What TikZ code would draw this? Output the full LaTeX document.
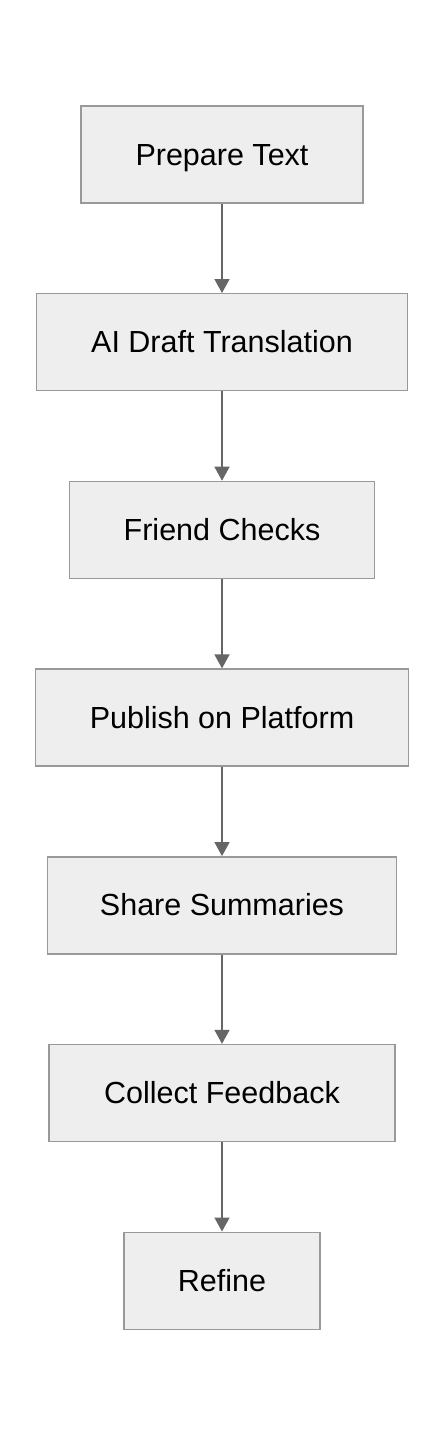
\documentclass[tikz,border=0pt]{standalone}
\usepackage{fontspec}
\setmainfont{Liberation Sans}
\usetikzlibrary{arrows.meta}
\definecolor{boxfill}{HTML}{EEEEEE}
\definecolor{boxline}{HTML}{999999}
\definecolor{arrowcol}{HTML}{666666}
\begin{document}
\begin{tikzpicture}[x=1pt,y=-1pt,
  stepbox/.style={draw=boxline, fill=boxfill, line width=1.4pt, rectangle,
    minimum height=97pt, inner sep=0pt, text height=21pt, text depth=0pt,
    font=\fontsize{30.5}{33}\selectfont, text=black},
  flow/.style={draw=arrowcol, line width=1.5pt, -{Triangle[width=15pt,length=14pt]}, shorten >=0pt}]
\useasboundingbox[fill=white] (0,0) rectangle (444,1436);
\node[stepbox, minimum width=282pt] (n1) at (222,154.5) {Prepare Text};
\node[stepbox, minimum width=371pt] (n2) at (222,342.2) {AI Draft Translation};
\node[stepbox, minimum width=305.5pt] (n3) at (222,529.9) {Friend Checks};
\node[stepbox, minimum width=373.3pt] (n4) at (222,717.6) {Publish on Platform};
\node[stepbox, minimum width=349pt] (n5) at (222,905.3) {Share Summaries};
\node[stepbox, minimum width=346.3pt] (n6) at (222,1093) {Collect Feedback};
\node[stepbox, minimum width=195.7pt] (n7) at (222,1280.7) {Refine};
\draw[flow] (n1) -- (n2);
\draw[flow] (n2) -- (n3);
\draw[flow] (n3) -- (n4);
\draw[flow] (n4) -- (n5);
\draw[flow] (n5) -- (n6);
\draw[flow] (n6) -- (n7);
\end{tikzpicture}
\end{document}
